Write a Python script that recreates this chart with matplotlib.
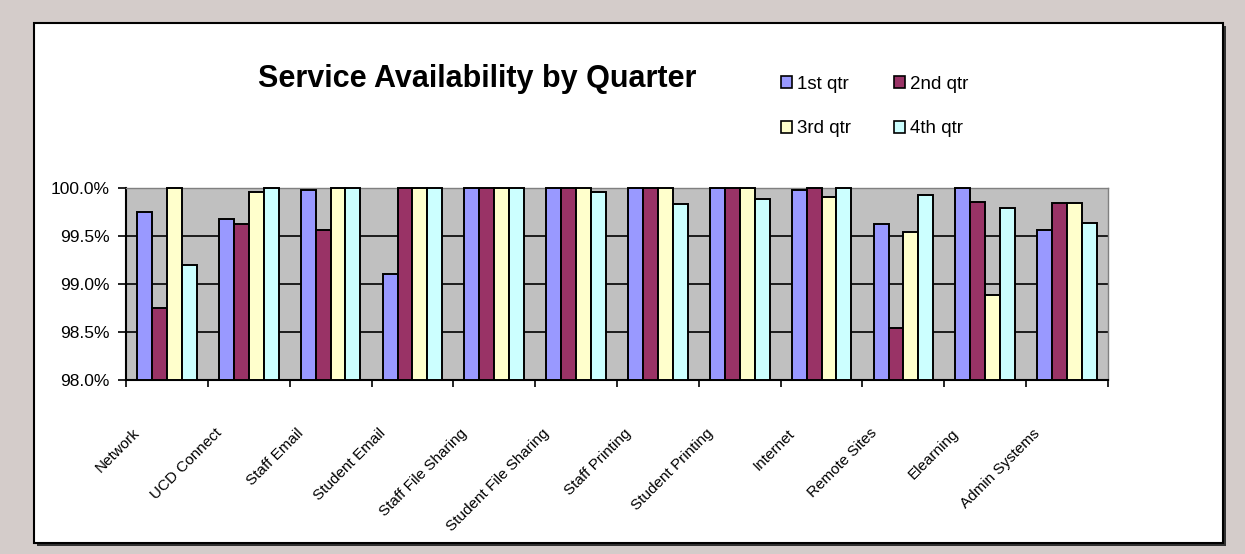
import numpy as np
import matplotlib
matplotlib.use('Agg')
import matplotlib.pyplot as plt
from matplotlib import font_manager
from matplotlib.patches import Rectangle, Patch
from matplotlib.ticker import FormatStrFormatter, FixedLocator
import matplotlib.transforms as mtrans

plt.rcParams['font.family'] = ['Liberation Sans', 'DejaVu Sans']

# Data (percent availability)
services = ['Network', 'UCD Connect', 'Staff Email', 'Student Email',
            'Staff File Sharing', 'Student File Sharing', 'Staff Printing',
            'Student Printing', 'Internet', 'Remote Sites', 'Elearning',
            'Admin Systems']
quarters = ['1st qtr', '2nd qtr', '3rd qtr', '4th qtr']
q1 = [99.75, 99.68, 99.975, 99.10, 100.0, 100.0, 100.0, 100.0, 99.975, 99.62, 100.0, 99.56]
q2 = [98.75, 99.63, 99.56, 100.0, 100.0, 100.0, 100.0, 100.0, 100.0, 98.54, 99.85, 99.84]
q3 = [100.0, 99.955, 100.0, 100.0, 100.0, 100.0, 100.0, 100.0, 99.91, 99.54, 98.89, 99.84]
q4 = [99.20, 100.0, 100.0, 100.0, 100.0, 99.955, 99.83, 99.89, 100.0, 99.93, 99.79, 99.64]
yticks = [98.0, 98.5, 99.0, 99.5, 100.0]

colors = ['#9999ff', '#993366', '#ffffcc', '#ccffff']
plot_bg = '#c0c0c0'
outer_bg = '#d4ccca'

# narrow face for the category labels if it is there
names = {f.name for f in font_manager.fontManager.ttflist}
if 'Liberation Sans Narrow' in names:
    lab_font, lab_size = ['Liberation Sans Narrow', 'Liberation Sans'], 12.5
else:
    lab_font, lab_size = ['Liberation Sans', 'DejaVu Sans'], 11

W, H, DPI = 1245, 554, 100
fig = plt.figure(figsize=(W / DPI, H / DPI), dpi=DPI, facecolor=outer_bg)

# white chart area with a black frame and a small shadow
fig.patches.append(Rectangle((37 / W, 1 - 546 / H), 1189 / W, 520 / H,
                             transform=fig.transFigure, facecolor='#333333',
                             edgecolor='none', zorder=-2))
fig.patches.append(Rectangle((34 / W, 1 - 543 / H), 1189 / W, 520 / H,
                             transform=fig.transFigure, facecolor='white',
                             edgecolor='black', lw=1.5, zorder=-1))

ax = fig.add_axes([126 / W, 1 - 380 / H, (1108 - 126) / W, (380 - 188) / H])
ax.set_facecolor(plot_bg)

x = np.arange(len(services))
width = 1 / 5.5
series = [q1, q2, q3, q4]
base = 98.0
for k, vals in enumerate(series):
    vals = np.array(vals)
    ax.bar(x + (k - 1.5) * width, vals - base, bottom=base, width=width,
           color=colors[k], edgecolor='black', lw=1.4, zorder=3,
           clip_on=False, label=quarters[k])

ax.set_xlim(-0.5, len(services) - 0.5)
ax.set_ylim(98.0, 100.0)
ax.yaxis.set_major_locator(FixedLocator(yticks))
ax.yaxis.set_major_formatter(FormatStrFormatter('%.1f%%'))
ax.grid(axis='y', color='black', lw=1.2, zorder=1)
ax.set_axisbelow(True)

ax.xaxis.set_major_locator(FixedLocator(np.arange(len(services) + 1) - 0.5))
ax.set_xticklabels([])
ax.tick_params(axis='x', direction='out', length=5, width=1.2, color='black')
ax.tick_params(axis='y', direction='out', length=6, width=1.2, color='black',
               labelsize=12.5, pad=6)

for s in ['left', 'bottom']:
    ax.spines[s].set_color('black')
    ax.spines[s].set_linewidth(1.5)
for s in ['top', 'right']:
    ax.spines[s].set_color('#808080')
    ax.spines[s].set_linewidth(1.0)

# rotated category labels, right end just left of each group centre
off = mtrans.ScaledTranslation(-29 / DPI, -51 / DPI, fig.dpi_scale_trans)
trans = mtrans.blended_transform_factory(ax.transData, ax.transAxes) + off
for i, name in enumerate(services):
    ax.text(i, 0, name, transform=trans, rotation=45, rotation_mode='anchor',
            ha='right', va='center', fontsize=lab_size, family=lab_font)

fig.text(477 / W, 1 - 79 / H, 'Service Availability by Quarter',
         ha='center', va='center', fontsize=22, fontweight='bold')

handles = [Patch(facecolor=c, edgecolor='black', lw=1.2) for c in colors]
order = [0, 2, 1, 3]
fig.legend([handles[i] for i in order], [quarters[i] for i in order],
           ncol=2, loc='upper left', bbox_to_anchor=(781 / W, 1 - 76 / H),
           frameon=False, fontsize=13.5, handlelength=0.6, handleheight=0.6,
           handletextpad=0.25, columnspacing=2.3, labelspacing=1.45,
           borderaxespad=0, borderpad=0)

fig.savefig('out.png', dpi=DPI, facecolor=outer_bg)
